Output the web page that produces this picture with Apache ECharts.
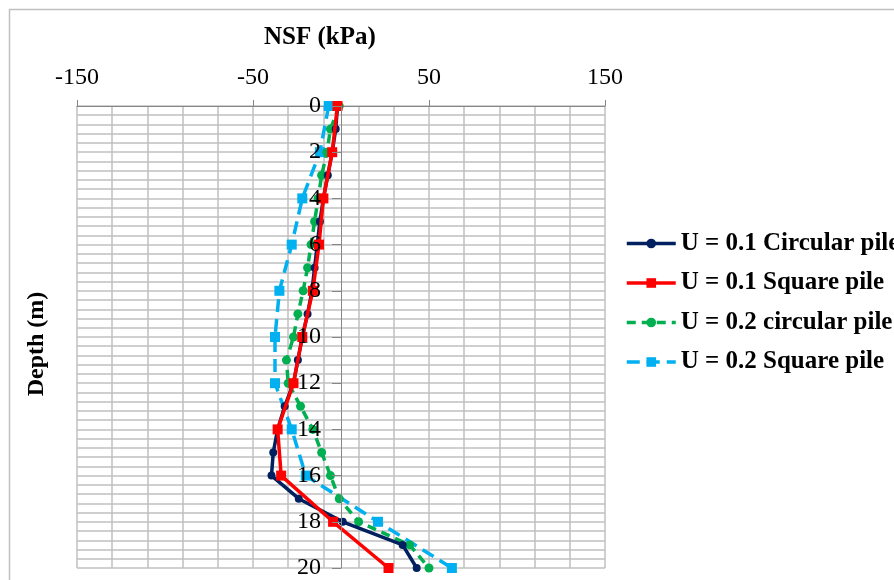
<!DOCTYPE html>
<html>
<head>
<meta charset="utf-8">
<script src="https://cdn.jsdelivr.net/npm/echarts@6/dist/echarts.min.js"></script>
<style>html,body{margin:0;padding:0;background:#fff;}#c{width:894px;height:580px;}</style>
</head>
<body>
<div id="c"></div>
<script>
// Depths (m)
var depthEvery1 = [0,1,2,3,4,5,6,7,8,9,10,11,12,13,14,15,16,17,18,19,20];
var depthEvery2 = [0,2,4,6,8,10,12,14,16,18,20];
// NSF (kPa) values
var u01Circular = [-2,-3,-5,-7.5,-10,-12,-13.5,-15,-16.5,-19,-22,-24.5,-27,-32,-36,-38.5,-39.5,-24,1,35,43];
var u01Square   = [-2,-5,-10,-12.5,-16,-22,-27,-36,-34,-4.5,27];
var u02Circular = [-1,-6,-8,-11,-13,-15,-17,-19,-21.5,-24.5,-27,-31,-30,-23,-16,-11,-6,-1,10,39,50];
var u02Square   = [-7,-12,-22,-28,-35,-37.5,-37.5,-28,-20,21,63];
var seriesNames = ['U = 0.1 Circular pile','U = 0.1 Square pile','U = 0.2 circular pile','U = 0.2 Square pile'];
var xTickLabels = [-150,-50,50,150];

function pairs(xs, ys){ return xs.map(function(v,i){ return [v, ys[i]]; }); }

var FONT = "'Liberation Serif','Times New Roman',serif";
var GRID = '#c0c0c0';
var AXIS = '#868686';
var C_NAVY = '#002060', C_RED = '#ff0000', C_GREEN = '#00b050', C_BLUE = '#00b0f0';
var DASH_G = [9, 6], DASH_B = [13, 7];

var GRID_LEFT = 77, GRID_RIGHT = 289, GRID_W = 894 - GRID_LEFT - GRID_RIGHT;
var X_MIN = -150, X_MAX = 150;
// y-axis sits where NSF = 0
var Y_AXIS_OFFSET = -GRID_W * (0 - X_MIN) / (X_MAX - X_MIN);

var chart = echarts.init(document.getElementById('c'));
chart.setOption({
  animation: false,
  backgroundColor: '#fff',
  textStyle: { fontFamily: FONT },
  title: {
    text: 'NSF (kPa)',
    left: 264, top: 25, padding: 0,
    textStyle: { fontFamily: FONT, fontSize: 25, fontWeight: 'bold', color: '#000' }
  },
  graphic: [
    { type: 'rect', shape: { x: 9.5, y: 9.5, width: 900, height: 600 }, style: { fill: 'none', stroke: '#c0c0c0', lineWidth: 1.5 }, silent: true, z: -1 },
    { type: 'text', x: 37, y: 344, rotation: Math.PI/2,
      style: { text: 'Depth (m)', font: 'bold 24px ' + FONT, fill: '#000', textAlign: 'center', textVerticalAlign: 'middle' } }
  ],
  legend: {
    left: 620, top: 226, orient: 'vertical',
    itemWidth: 49, itemHeight: 12, itemGap: 14.5,
    textStyle: { fontFamily: FONT, fontSize: 25, fontWeight: 'bold', color: '#000' },
    data: [
      { name: seriesNames[0], lineStyle: { width: 3.5, color: C_NAVY, type: 'solid' } },
      { name: seriesNames[1], lineStyle: { width: 3.5, color: C_RED, type: 'solid' } },
      { name: seriesNames[2], lineStyle: { width: 3.5, color: C_GREEN, type: DASH_G } },
      { name: seriesNames[3], lineStyle: { width: 3.5, color: C_BLUE, type: DASH_B } }
    ]
  },
  grid: { left: GRID_LEFT, right: GRID_RIGHT, top: 106, bottom: 8, containLabel: false },
  xAxis: {
    type: 'value', position: 'top', min: X_MIN, max: X_MAX, interval: 100,
    axisLine: { show: true, onZero: false, lineStyle: { color: AXIS, width: 1 } },
    axisTick: { show: true, length: 6, lineStyle: { color: AXIS } },
    axisLabel: {
      color: '#000', fontSize: 24, fontFamily: FONT, margin: 16,
      formatter: function(v){ return xTickLabels.indexOf(v) >= 0 ? String(v) : ''; }
    },
    splitLine: { show: true, lineStyle: { color: GRID, width: 1.5 } },
    minorSplitLine: { show: true, lineStyle: { color: GRID, width: 1.5 } },
    minorTick: { show: false, splitNumber: 5 }
  },
  yAxis: [
    { // gridlines only (below the series)
      type: 'value', inverse: true, min: 0, max: 20, interval: 2,
      position: 'left',
      axisLine: { show: false, onZero: false },
      axisTick: { show: false },
      axisLabel: { show: false },
      splitLine: { show: true, lineStyle: { color: GRID, width: 1.5 } },
      minorSplitLine: { show: true, lineStyle: { color: GRID, width: 1.5 } },
      minorTick: { show: false, splitNumber: 5 }
    },
    { // axis line, ticks and labels at NSF = 0 (above the series)
      type: 'value', inverse: true, min: 0, max: 20, interval: 2,
      position: 'left', offset: Y_AXIS_OFFSET, z: 10,
      axisLine: { show: true, onZero: false, lineStyle: { color: AXIS, width: 1 } },
      axisTick: { show: true, length: 9, lineStyle: { color: AXIS } },
      axisLabel: { color: '#000', fontSize: 24, fontFamily: FONT, margin: 20 },
      splitLine: { show: false },
      minorSplitLine: { show: false }
    }
  ],
  series: [
    { name: seriesNames[0], type: 'line', yAxisIndex: 0, data: pairs(u01Circular, depthEvery1),
      symbol: 'circle', symbolSize: 8, color: C_NAVY,
      lineStyle: { color: C_NAVY, width: 3.5 }, itemStyle: { color: C_NAVY }, z: 3 },
    { name: seriesNames[1], type: 'line', yAxisIndex: 0, data: pairs(u01Square, depthEvery2),
      symbol: 'rect', symbolSize: 10, color: C_RED,
      lineStyle: { color: C_RED, width: 3.5 }, itemStyle: { color: C_RED }, z: 4 },
    { name: seriesNames[2], type: 'line', yAxisIndex: 0, data: pairs(u02Circular, depthEvery1),
      symbol: 'circle', symbolSize: 9, color: C_GREEN,
      lineStyle: { color: C_GREEN, width: 3.5, type: DASH_G }, itemStyle: { color: C_GREEN }, z: 2 },
    { name: seriesNames[3], type: 'line', yAxisIndex: 0, data: pairs(u02Square, depthEvery2),
      symbol: 'rect', symbolSize: 10, color: C_BLUE,
      lineStyle: { color: C_BLUE, width: 3.5, type: DASH_B }, itemStyle: { color: C_BLUE }, z: 1 }
  ]
});
</script>
</body>
</html>
